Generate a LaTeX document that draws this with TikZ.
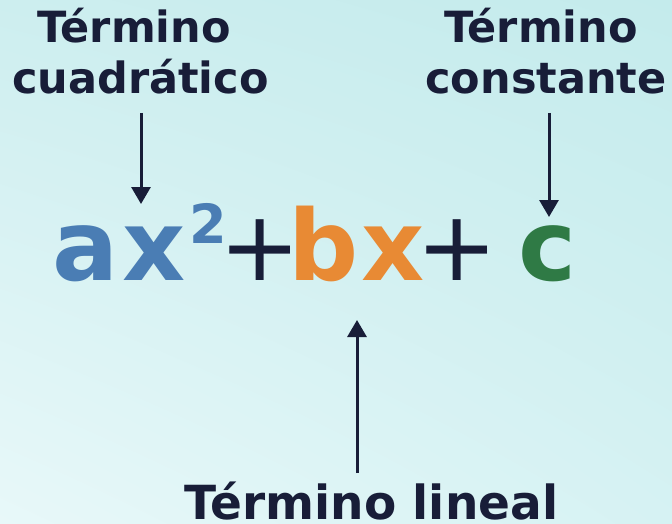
\documentclass[tikz,border=0pt]{standalone}
\usepackage{fontspec}
\setmainfont{DejaVu Sans}
\usetikzlibrary{arrows.meta,shadings}
\definecolor{navy}{HTML}{181D38}
\definecolor{qblue}{HTML}{4A7DB4}
\definecolor{lorange}{HTML}{E88A34}
\definecolor{cgreen}{HTML}{2F7A45}
\definecolor{bgUL}{HTML}{CDEEEF}
\definecolor{bgUR}{HTML}{C4EBEC}
\definecolor{bgLL}{HTML}{E8F8F9}
\definecolor{bgLR}{HTML}{D6F2F3}
\tikzset{
  lbl/.style={inner sep=0pt, anchor=base, text=navy, font=\bfseries\fontsize{43}{51}\selectfont},
  lblbig/.style={inner sep=0pt, anchor=base, text=navy, font=\bfseries\fontsize{47}{55}\selectfont},
  term/.style={inner sep=0pt, anchor=base, font=\bfseries\fontsize{98}{110}\selectfont},
  sup/.style={inner sep=0pt, anchor=base, font=\bfseries\fontsize{54}{60}\selectfont},
  plus/.style={inner sep=0pt, anchor=base, text=navy, font=\fontsize{97}{110}\selectfont},
  arr/.style={draw=navy, line width=3pt, -{Triangle[width=19pt,length=17pt]}}
}
\begin{document}
\begin{tikzpicture}[x=1pt,y=-1pt]
\shade[upper left=bgUL, upper right=bgUR, lower left=bgLL, lower right=bgLR] (0,0) rectangle (672,524);
\useasboundingbox (0,0) rectangle (672,524);
% labels
\node[lbl] (q1) at (134,43) {Término};
\node[lbl] (q2) at (140.5,94) {cuadrático};
\node[lbl] (k1) at (541,43) {Término};
\node[lbl] (k2) at (546,94) {constante};
\node[lblbig] (l1) at (371.5,519) {Término lineal};
% equation
\node[term, text=qblue] (ta) at (86,280) {a};
\node[term, text=qblue] (tx) at (154,280) {x};
\node[sup, text=qblue] (t2) at (208,243) {2};
\node[plus] (p1) at (260,280) {+};
\node[term, text=lorange] (tb) at (324,280) {b};
\node[term, text=lorange] (tx2) at (393.5,280) {x};
\node[plus] (p2) at (457.5,280) {+};
\node[term, text=cgreen] (tc) at (547.5,280) {c};
% arrow ends
\coordinate (qs) at (141,113);
\coordinate (qe) at (141,204);
\coordinate (ks) at (549,113);
\coordinate (ke) at (549,217);
\coordinate (ls) at (357,473);
\coordinate (le) at (357,320);
\draw[arr] (qs) -- (qe);
\draw[arr] (ks) -- (ke);
\draw[arr] (ls) -- (le);
\end{tikzpicture}
\end{document}
